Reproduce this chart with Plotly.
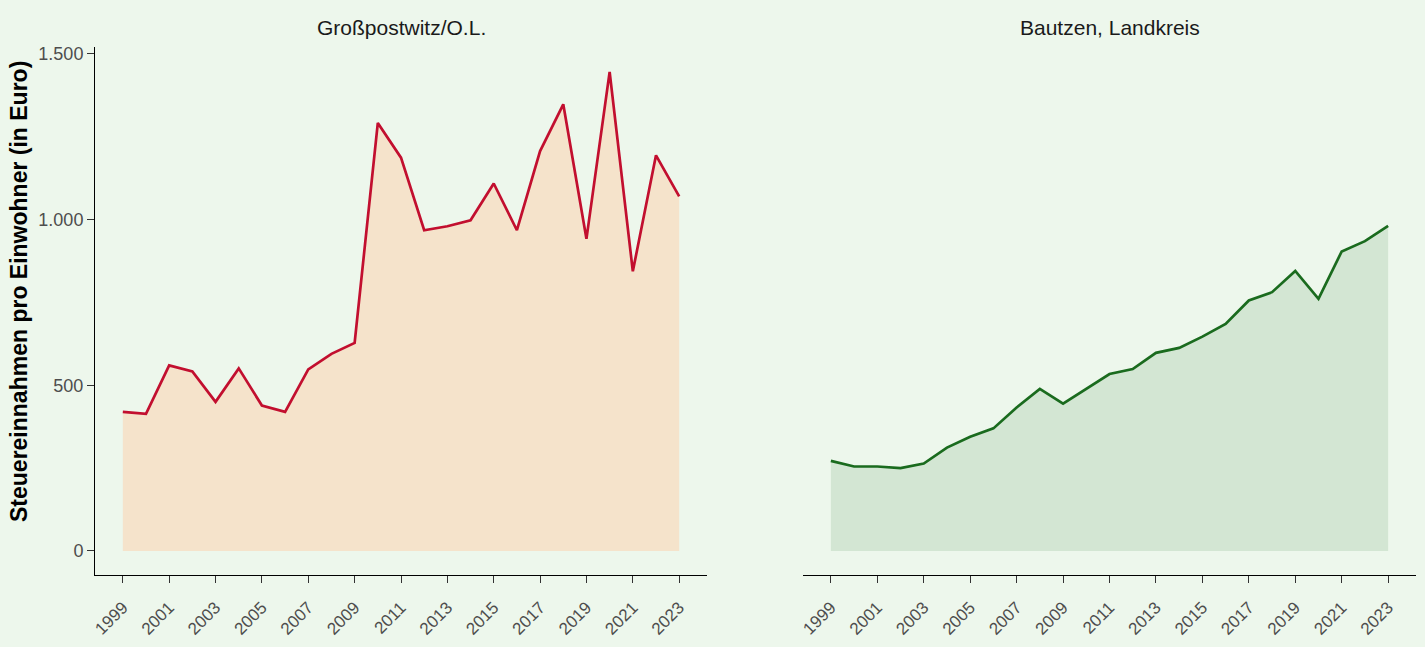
import plotly.graph_objects as go

years = list(range(1999, 2024))
gross_vals = [420, 414, 560, 542, 450, 551, 439, 420, 548, 595, 628, 1292, 1187, 968, 980, 998,
              1109, 968, 1207, 1348, 942, 1446, 844, 1194, 1070]
bautzen_vals = [272, 255, 255, 250, 264, 312, 345, 370, 433, 489, 445, 490, 534, 549, 598, 613,
                647, 685, 756, 781, 845, 761, 904, 935, 981]
panel_titles = ["Großpostwitz/O.L.", "Bautzen, Landkreis"]
y_title = "Steuereinnahmen pro Einwohner (in Euro)"
y_tickvals = [0, 500, 1000, 1500]
y_ticktext = ["0", "500", "1.000", "1.500"]
x_tickvals = list(range(1999, 2024, 2))

W, H = 1425, 647
BG = "#EDF7EC"
FONT = "Liberation Sans, Arial, sans-serif"

fig = go.Figure()
fig.add_trace(go.Scatter(x=years, y=gross_vals, mode="lines", fill="tozeroy",
                         fillcolor="#F5E3CB", line=dict(color="#C20F2F", width=2.7),
                         xaxis="x", yaxis="y", hoverinfo="x+y", showlegend=False))
fig.add_trace(go.Scatter(x=years, y=bautzen_vals, mode="lines", fill="tozeroy",
                         fillcolor="#D3E6D3", line=dict(color="#1A6B1E", width=2.7),
                         xaxis="x2", yaxis="y2", hoverinfo="x+y", showlegend=False))

xr = [1997.8, 2024.2]
yr = [-72.5, 1522.5]
ydom = [(H - 575) / H, (H - 46.5) / H]

xcommon = dict(range=xr, tickvals=x_tickvals, tickangle=-45, ticks="outside", ticklen=7,
               tickwidth=1.3, tickcolor="#333333", showline=True, linecolor="#000000",
               linewidth=1, showgrid=False, zeroline=False, automargin=False,
               ticklabelstandoff=8,
               tickfont=dict(family=FONT, size=17, color="#4D4D4D"), fixedrange=True)

fig.update_layout(
    width=W, height=H,
    paper_bgcolor=BG, plot_bgcolor=BG,
    margin=dict(l=0, r=0, t=0, b=0),
    template="none",
    font=dict(family=FONT),
    xaxis=dict(domain=[95 / W, 707 / W], anchor="y", **xcommon),
    xaxis2=dict(domain=[803 / W, 1416 / W], anchor="y2", **xcommon),
    yaxis=dict(domain=ydom, range=yr, tickvals=y_tickvals, ticktext=y_ticktext,
               ticks="outside", ticklen=7, tickwidth=1.3, tickcolor="#333333",
               showline=True, linecolor="#000000", linewidth=1, showgrid=False,
               zeroline=False, automargin=False, anchor="x",
               tickfont=dict(family=FONT, size=18, color="#4D4D4D"), fixedrange=True),
    yaxis2=dict(domain=ydom, range=yr, showticklabels=False, ticks="", showline=False,
                showgrid=False, zeroline=False, automargin=False, anchor="x2", fixedrange=True),
    annotations=[
        dict(text=panel_titles[0], x=(95 + 707) / 2 / W, y=1 - 27 / H, xref="paper", yref="paper",
             showarrow=False, font=dict(family=FONT, size=21, color="#1A1A1A"),
             xanchor="center", yanchor="middle"),
        dict(text=panel_titles[1], x=(803 + 1416) / 2 / W, y=1 - 27 / H, xref="paper", yref="paper",
             showarrow=False, font=dict(family=FONT, size=21, color="#1A1A1A"),
             xanchor="center", yanchor="middle"),
        dict(text="<b>" + y_title + "</b>", x=19 / W, y=1 - 292 / H, xref="paper", yref="paper",
             showarrow=False, textangle=-90, font=dict(family=FONT, size=23, color="#000000"),
             xanchor="center", yanchor="middle"),
    ],
)

fig.write_html("out.html", config={"displayModeBar": False},
               post_script="document.body.style.margin='0';document.body.style.padding='0';"
                           "document.body.style.background='" + BG + "';")
